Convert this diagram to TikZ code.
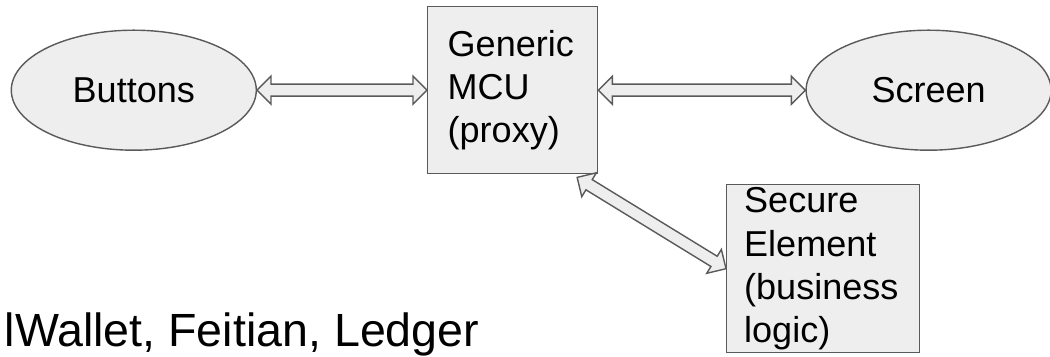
\documentclass[tikz,border=0pt]{standalone}
\usepackage{fontspec}
\setmainfont{Liberation Sans}
\usepackage{tikz}
\usetikzlibrary{calc,positioning,shapes.geometric}
\definecolor{hwfill}{HTML}{EEEEEE}
\definecolor{hwline}{HTML}{5A5A5A}
\def\fatarrow#1#2{
  \draw[fat arrow] let \p1=($(#2)-(#1)$), \n1={atan2(\y1,\x1)} in
    (#1) -- ($(#1)+(\n1:0.28cm)+(\n1+90:0.28cm)$)
         -- ($(#1)+(\n1:0.28cm)+(\n1+90:0.12cm)$)
         -- ($(#2)+(\n1+180:0.28cm)+(\n1+90:0.12cm)$)
         -- ($(#2)+(\n1+180:0.28cm)+(\n1+90:0.28cm)$)
         -- (#2)
         -- ($(#2)+(\n1+180:0.28cm)+(\n1-90:0.28cm)$)
         -- ($(#2)+(\n1+180:0.28cm)+(\n1-90:0.12cm)$)
         -- ($(#1)+(\n1:0.28cm)+(\n1-90:0.12cm)$)
         -- ($(#1)+(\n1:0.28cm)+(\n1-90:0.28cm)$) -- cycle;
}
\tikzset{
  wallet schemes/.style = {
    line width = 0.8pt,
    % Узлы
    hw oval/.style = {
      ellipse, draw=hwline, fill=hwfill,
      minimum width=4.9cm, minimum height=2.4cm,
      inner sep=0pt, font=\fontsize{20.5}{24.5}\selectfont
    },
    hw box/.style = {
      rectangle, draw=hwline, fill=hwfill, align=left,
      inner ysep=0pt, font=\fontsize{20.5}{24.5}\selectfont
    },
    % Подпись
    vendor text/.style = {inner sep=0pt, font=\fontsize{26.5}{30}\selectfont},
    % Стрелки
    fat arrow/.style = {draw=hwline, fill=hwfill, line join=miter},
  }
}
\begin{document}
\begin{tikzpicture}[wallet schemes]
  \useasboundingbox (0,0) rectangle (21,-7.14);

  \node [hw box, anchor=north west, text width=2.6cm, inner xsep=0.4cm,
         minimum height=3.34cm] (mcu) at (8.54,-0.12) {Generic MCU (proxy)};
  \node [hw oval, left=3.4cm of mcu]   (buttons) {Buttons};
  \node [hw oval, right=4.14cm of mcu] (screen)  {Screen};

  \node [hw box, anchor=north west, text width=3.15cm, inner xsep=0.35cm,
         minimum height=3.36cm] (se) at (14.52,-3.68)
         {Secure Element (business logic)};

  \coordinate (mcu-out) at ($(mcu.south west)!0.876!(mcu.south east)+(0,-0.06)$);

  \fatarrow{buttons.east}{mcu.west}
  \fatarrow{mcu.east}{screen.west}
  \fatarrow{mcu-out}{se.west}

  \node [vendor text, anchor=base west] (vendors) at (0.08,-6.94)
        {lWallet, Feitian, Ledger};
\end{tikzpicture}
\end{document}
